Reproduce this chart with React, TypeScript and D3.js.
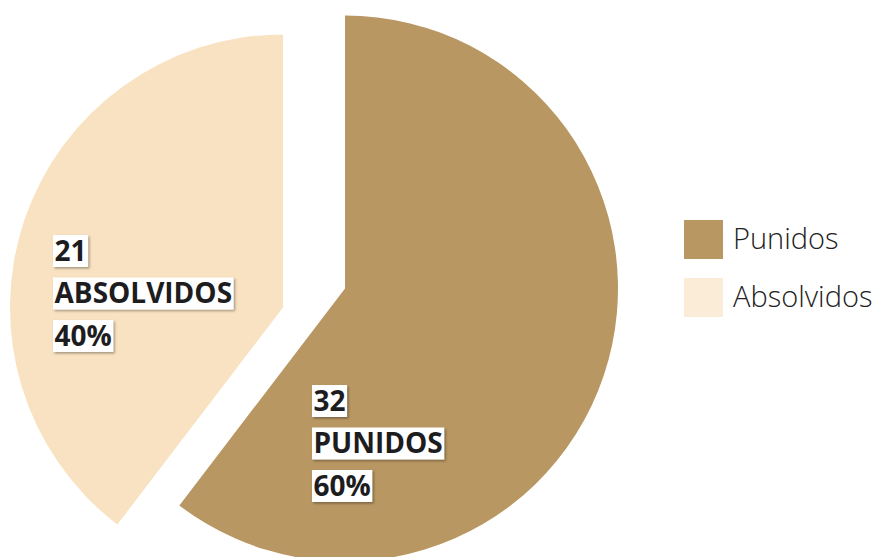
import React from "react";
import * as d3 from "d3";

const categories = ["Punidos", "Absolvidos"];
const values = [32, 21];
const percents = ["60%", "40%"];
const labelNames = ["PUNIDOS", "ABSOLVIDOS"];
const colors = ["#B99763", "#F9E2C1"];
const legendColors = ["#B99763", "#FAECD6"];

const W = 877;
const H = 557;
const CX = 345;
const CY = 288.5;
const R = 273;
// slice offsets (explode) in px
const OFFSETS: [number, number][] = [
  [0, 0],
  [-62, 19],
];
// label anchor positions (top-left of first line box)
const LABEL_POS: [number, number][] = [
  [312, 385],
  [53, 235],
];

export default function App() {
  const pie = d3
    .pie<number>()
    .sort(null)
    .startAngle(0)
    .endAngle(2 * Math.PI)
    .value((d) => d);
  const arcs = pie(values);
  const arcGen = d3.arc<d3.PieArcDatum<number>>().innerRadius(0).outerRadius(R);

  const font = "'Open Sans', 'DejaVu Sans', sans-serif";

  return (
    <svg
      width={W}
      height={H}
      style={{ position: "absolute", left: 0, top: 0, background: "#fff" }}
    >
      <defs>
        <filter id="sh" x="-20%" y="-20%" width="150%" height="160%">
          <feDropShadow dx="1.5" dy="1.5" stdDeviation="1.2" floodColor="#000" floodOpacity="0.35" />
        </filter>
      </defs>
      {arcs.map((a, i) => (
        <path
          key={i}
          d={arcGen(a) || ""}
          fill={colors[i]}
          transform={`translate(${CX + OFFSETS[i][0]},${CY + OFFSETS[i][1]})`}
        />
      ))}
      {arcs.map((a, i) => {
        const lines = [String(values[i]), labelNames[i], percents[i]];
        const [lx, ly] = LABEL_POS[i];
        return (
          <g key={"l" + i}>
            {lines.map((t, j) => (
              <LabelLine key={j} x={lx} y={ly + j * 42.5} text={t} font={font} />
            ))}
          </g>
        );
      })}
      {categories.map((c, i) => (
        <g key={"lg" + i} transform={`translate(684,${220 + i * 58})`}>
          <rect width={39} height={39} fill={legendColors[i]} />
          <text
            x={49}
            y={29}
            fontFamily={font}
            fontWeight={300}
            fontSize={29}
            fill="#222"
          >
            {c}
          </text>
        </g>
      ))}
    </svg>
  );
}

function LabelLine({ x, y, text, font }: { x: number; y: number; text: string; font: string }) {
  const ref = React.useRef<SVGTextElement>(null);
  const [w, setW] = React.useState(0);
  React.useLayoutEffect(() => {
    if (ref.current) setW(ref.current.getBBox().width);
  }, [text]);
  return (
    <g>
      <rect x={x} y={y} width={w + 3} height={32} fill="#fff" filter="url(#sh)" />
      <text
        ref={ref}
        x={x + 1.5}
        y={y + 25.5}
        fontFamily={font}
        fontWeight={700}
        fontSize={28}
        fill="#1d1d1f"
      >
        {text}
      </text>
    </g>
  );
}
